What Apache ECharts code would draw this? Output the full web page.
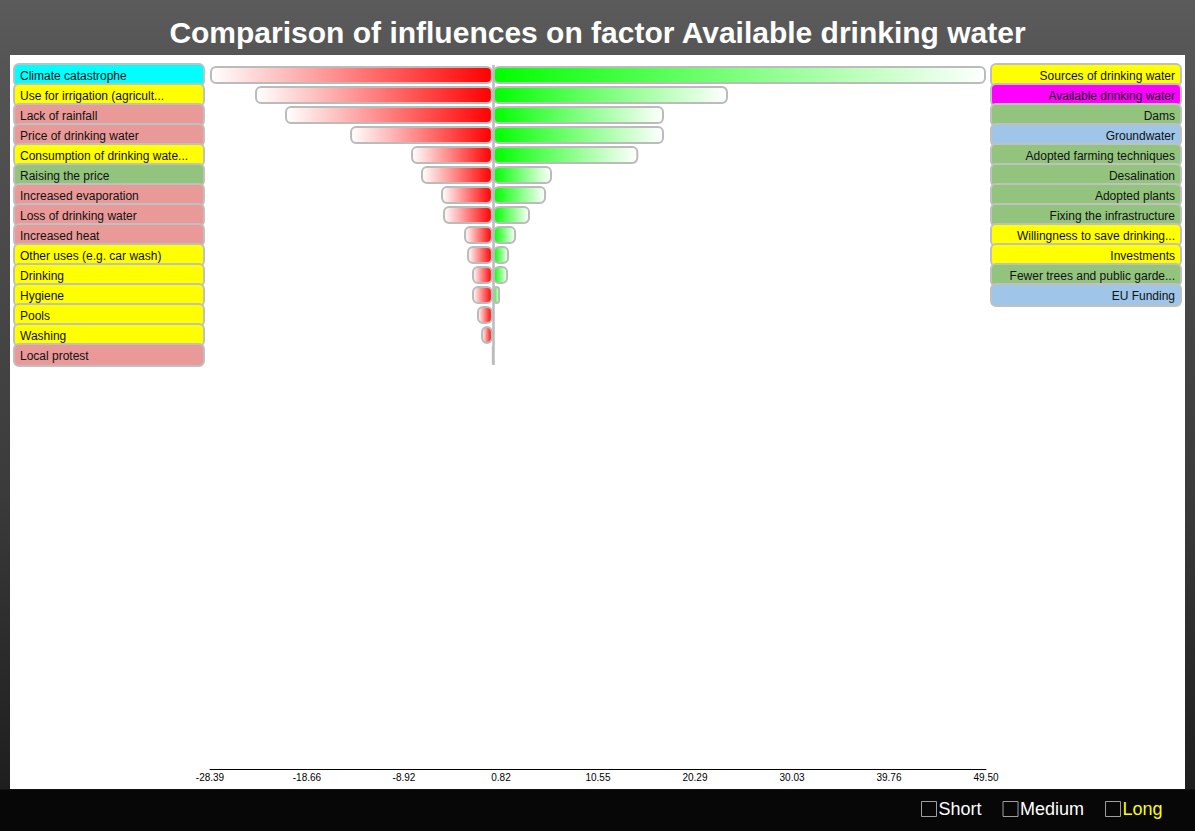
<!DOCTYPE html>
<html><head><meta charset="utf-8">
<script src="https://cdn.jsdelivr.net/npm/echarts@6/dist/echarts.min.js"></script>
<style>
html,body{margin:0;padding:0;width:1195px;height:831px;overflow:hidden;}
body{background:linear-gradient(to bottom,#5b5b5b 0px,#555555 60px,#3a3a3a 500px,#1e1e1e 789px,#070707 790px,#070707 831px);}
#panel{position:absolute;left:10px;top:55px;width:1175px;height:734px;background:#fff;}
#chart{position:absolute;left:0;top:0;width:1195px;height:831px;}
</style></head><body>
<div id="panel"></div><div id="chart"></div>
<script>
const titleText = 'Comparison of influences on factor Available drinking water';
const leftFactors = ['Climate catastrophe','Use for irrigation (agricult...','Lack of rainfall','Price of drinking water','Consumption of drinking wate...','Raising the price','Increased evaporation','Loss of drinking water','Increased heat','Other uses (e.g. car wash)','Drinking','Hygiene','Pools','Washing','Local protest'];
const leftTypes = ['cyan','yellow','pink','pink','yellow','green','pink','pink','pink','yellow','yellow','yellow','yellow','yellow','pink'];
const leftValues = [-28.39,-23.87,-20.86,-14.33,-8.21,-7.21,-5.2,-5.0,-2.89,-2.59,-2.09,-2.09,-1.59,-1.18,0];
const rightFactors = ['Sources of drinking water','Available drinking water','Dams','Groundwater','Adopted farming techniques','Desalination','Adopted plants','Fixing the infrastructure','Willingness to save drinking...','Investments','Fewer trees and public garde...','EU Funding'];
const rightTypes = ['yellow','magenta','green','blue','green','green','green','green','yellow','yellow','green','blue'];
const rightValues = [49.5,23.6,17.18,17.18,14.6,5.94,5.34,3.73,2.33,1.63,1.53,0.72];
const tickValues = [-28.39,-18.66,-8.92,0.82,10.55,20.29,30.03,39.76,49.50];
const axisMin = -28.39, axisMax = 49.50;
const legendItems = ['Short','Medium','Long'];

const FONT = '"Liberation Sans", Arial, Helvetica, sans-serif';
const typeColors = {cyan:'#00ffff', yellow:'#ffff00', pink:'#ea9999', green:'#93c47d', blue:'#9fc5e8', magenta:'#ff00ff'};

function richFor(side){
  const r = {};
  Object.keys(typeColors).forEach(k=>{
    r[k] = {backgroundColor:typeColors[k], borderColor:'#c0c0c0', borderWidth:2, borderRadius:4,
      width:178, height:17, lineHeight:17, padding:[2,5,1,5], fontSize:12, color:'#111', fontFamily:FONT,
      align: side==='left' ? 'left' : 'right'};
  });
  return r;
}
const rowCount = Math.max(leftFactors.length, rightFactors.length);
const rightCats = [];
for (let i=0;i<rowCount;i++) rightCats.push(i<rightFactors.length ? rightFactors[i] : ' '.repeat(i+1));

const legendText = c => ({color:c, fontSize:18, fontFamily:FONT, padding:[0,0,0,-3]});
const chart = echarts.init(document.getElementById('chart'), null, {renderer:'svg'});
chart.setOption({
  backgroundColor:'transparent',
  animation:false,
  title:{text:titleText, left:'center', top:12, textStyle:{color:'#fff', fontSize:30, fontWeight:'bold', fontFamily:FONT}},
  legend:{left:916, top:795, itemWidth:15, itemHeight:15, itemGap:21, selectedMode:false, icon:'rect',
    itemStyle:{color:'transparent', borderColor:'#a0a0a0', borderWidth:1},
    textStyle:legendText('#fff'),
    data: legendItems.map(n=>({name:n, icon:'rect', textStyle: legendText(n==='Long' ? '#ffff00' : '#ffffff')}))},
  grid:[
    {left:210, width:776, top:65, height:300, containLabel:false},
    {left:210, width:776, top:700, height:69, containLabel:false}
  ],
  xAxis:[
    {gridIndex:0, type:'value', min:axisMin, max:axisMax, show:false},
    {gridIndex:1, type:'value', min:axisMin, max:axisMax, position:'bottom',
      axisLine:{show:true, lineStyle:{color:'#000', width:1}}, axisTick:{show:false}, splitLine:{show:false},
      axisLabel:{customValues:tickValues, formatter:v=>Number(v).toFixed(2), fontSize:10, color:'#000', margin:3, fontFamily:FONT}}
  ],
  yAxis:[
    {gridIndex:0, type:'category', inverse:true, data:leftFactors, position:'left',
      axisLine:{show:false}, axisTick:{show:false}, splitLine:{show:false},
      axisLabel:{interval:0, margin:195, align:'left', formatter:(v,i)=>'{'+leftTypes[i]+'|'+v+'}', rich:richFor('left')}},
    {gridIndex:0, type:'category', inverse:true, data:rightCats, position:'right',
      axisLine:{show:false}, axisTick:{show:false}, splitLine:{show:false},
      axisLabel:{interval:0, margin:6, align:'left', formatter:(v,i)=> i<rightFactors.length ? '{'+rightTypes[i]+'|'+v+'}' : '', rich:richFor('right')}},
    {gridIndex:1, type:'value', show:false}
  ],
  series:[
    {type:'bar', name:'influences-left', xAxisIndex:0, yAxisIndex:0, stack:'s', barWidth:18, data:leftValues,
      itemStyle:{color:new echarts.graphic.LinearGradient(0,0,1,0,[{offset:0,color:'#ffffff'},{offset:1,color:'#ff0000'}]),
        borderColor:'#bbbbbb', borderWidth:2, borderRadius:5},
      markLine:{silent:true, symbol:'none', label:{show:false}, lineStyle:{color:'#bbbbbb', width:2.5, type:'solid'}, data:[{xAxis:0}]}},
    {type:'bar', name:'influences-right', xAxisIndex:0, yAxisIndex:0, stack:'s', barWidth:18, data:rightValues,
      itemStyle:{color:new echarts.graphic.LinearGradient(0,0,1,0,[{offset:0,color:'#00ff00'},{offset:1,color:'#ffffff'}]),
        borderColor:'#bbbbbb', borderWidth:2, borderRadius:5}}
  ].concat(legendItems.map(n=>({type:'line', name:n, data:[], xAxisIndex:1, yAxisIndex:2,
      itemStyle:{color:'transparent', borderColor:'#a0a0a0'}, lineStyle:{opacity:0}})))
});
</script>
</body></html>
